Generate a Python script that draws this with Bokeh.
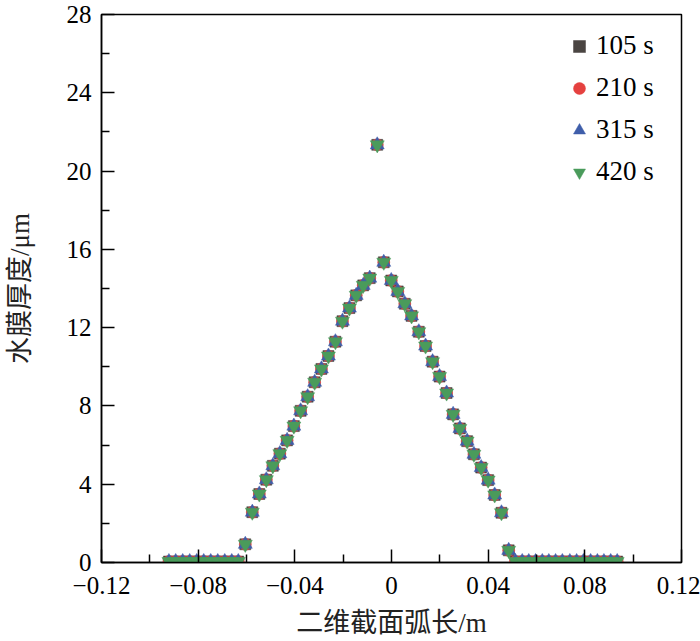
from bokeh.plotting import figure
from bokeh.models import Range1d, FixedTicker, Legend, LegendItem
from bokeh.embed import file_html
from bokeh.resources import INLINE

# ---- data ----
series_names = ["105 s", "210 s", "315 s", "420 s"]

arc_length = [
    -0.0921, -0.0893, -0.0864, -0.0835, -0.0806, -0.0777, -0.0748, -0.0719, -0.0690, -0.0661, -0.0634,
    -0.0605, -0.0576, -0.0547, -0.0518, -0.0491, -0.0462, -0.0432, -0.0404, -0.0376, -0.0347, -0.0318,
    -0.0290, -0.0261, -0.0232, -0.0203, -0.0174, -0.0146, -0.0117, -0.0090, -0.0059, -0.0032,
    -0.0001, 0.0026, 0.0055, 0.0083, 0.0113, 0.0141, 0.0170, 0.0199, 0.0228, 0.0255, 0.0283, 0.0313,
    0.0341, 0.0371, 0.0400, 0.0427, 0.0455, 0.0485,
    0.0513, 0.0541, 0.0568, 0.0596, 0.0624, 0.0651, 0.0679, 0.0707, 0.0738, 0.0766, 0.0794, 0.0824,
    0.0852, 0.0879, 0.0907, 0.0934,
]

# the four time steps overlap completely in the reference
thickness_105 = [
    0.05, 0.05, 0.05, 0.05, 0.05, 0.05, 0.05, 0.05, 0.05, 0.05, 0.05,
    0.93, 2.57, 3.50, 4.23, 4.94, 5.56, 6.24, 6.97, 7.75, 8.47, 9.21,
    9.89, 10.55, 11.28, 12.33, 13.00, 13.65, 14.16, 14.53, 21.34, 15.34,
    14.41, 13.85, 13.22, 12.60, 11.79, 11.06, 10.26, 9.50, 8.66, 7.57, 6.85, 6.20,
    5.53, 4.85, 4.21, 3.45, 2.54, 0.62,
    0.05, 0.05, 0.05, 0.05, 0.05, 0.05, 0.05, 0.05, 0.05, 0.05, 0.05, 0.05,
    0.05, 0.05, 0.05, 0.05,
]
thickness_210 = thickness_105
thickness_315 = thickness_105
thickness_420 = thickness_105

x_ticks = [-0.12, -0.08, -0.04, 0.0, 0.04, 0.08, 0.12]
x_tick_labels = ["\u22120.12", "\u22120.08", "\u22120.04", "0", "0.04", "0.08", "0.12"]
x_minor = [-0.1, -0.06, -0.02, 0.02, 0.06, 0.1]
y_ticks = [0, 4, 8, 12, 16, 20, 24, 28]
y_tick_labels = ["0", "4", "8", "12", "16", "20", "24", "28"]
y_minor = [2, 6, 10, 14, 18, 22, 26]

SERIF = "Liberation Serif"
CJK = "Liberation Serif, Noto Sans CJK SC"

p = figure(width=700, height=641, output_backend="svg", toolbar_location=None,
           x_range=Range1d(-0.12, 0.12), y_range=Range1d(0, 28),
           min_border_left=101, min_border_right=19, min_border_top=14, min_border_bottom=79)
p.background_fill_color = "white"
p.border_fill_color = "white"
p.outline_line_color = "black"
p.outline_line_width = 1.5
p.xgrid.visible = False
p.ygrid.visible = False

styles = [
    ("square", "#4a4542", 11, thickness_105),
    ("circle", "#e5413f", 12, thickness_210),
    ("triangle", "#3f5eaa", 14, thickness_315),
    ("inverted_triangle", "#4a9b5b", 14, thickness_420),
]
items = []
for name, (marker, color, size, vals) in zip(series_names, styles):
    r = p.scatter(arc_length, vals, marker=marker, size=size,
                  fill_color=color, line_color=color, line_width=0.5)
    items.append(LegendItem(label=name, renderers=[r]))

for ax, ticks, labels, minor in [(p.xaxis[0], x_ticks, x_tick_labels, x_minor),
                                 (p.yaxis[0], y_ticks, y_tick_labels, y_minor)]:
    ax.ticker = FixedTicker(ticks=ticks, minor_ticks=minor)
    ax.major_label_overrides = {t: l for t, l in zip(ticks, labels)}
    ax.major_tick_in = 13
    ax.major_tick_out = 0
    ax.minor_tick_in = 8
    ax.minor_tick_out = 0
    ax.axis_line_width = 1.5
    ax.major_tick_line_width = 1.5
    ax.minor_tick_line_width = 1.5
    ax.axis_line_color = "black"
    ax.major_tick_line_color = "black"
    ax.minor_tick_line_color = "black"
    ax.major_label_text_font = SERIF
    ax.major_label_text_font_size = "25px"
    ax.major_label_text_color = "black"
    ax.axis_label_text_font = CJK
    ax.axis_label_text_font_size = "27px"
    ax.axis_label_text_font_style = "normal"
    ax.axis_label_text_color = "#222222"

p.xaxis[0].axis_label = "二维截面弧长/m"
p.xaxis[0].major_label_standoff = 14
p.xaxis[0].axis_label_standoff = 11
p.yaxis[0].axis_label = "水膜厚度/μm"
p.yaxis[0].major_label_standoff = 10
p.yaxis[0].axis_label_standoff = 29
p.yaxis[0].major_label_orientation = "horizontal"

legend = Legend(items=items, location="top_right")
legend.border_line_color = None
legend.background_fill_alpha = 0
legend.margin = 16
legend.padding = 3
legend.spacing = 11
legend.glyph_width = 30
legend.glyph_height = 30
legend.label_height = 30
legend.label_width = 69
legend.label_standoff = 2
legend.label_text_font = SERIF
legend.label_text_font_size = "27px"
legend.label_text_color = "black"
p.add_layout(legend, "center")

open("out.html", "w").write(file_html(p, INLINE))
